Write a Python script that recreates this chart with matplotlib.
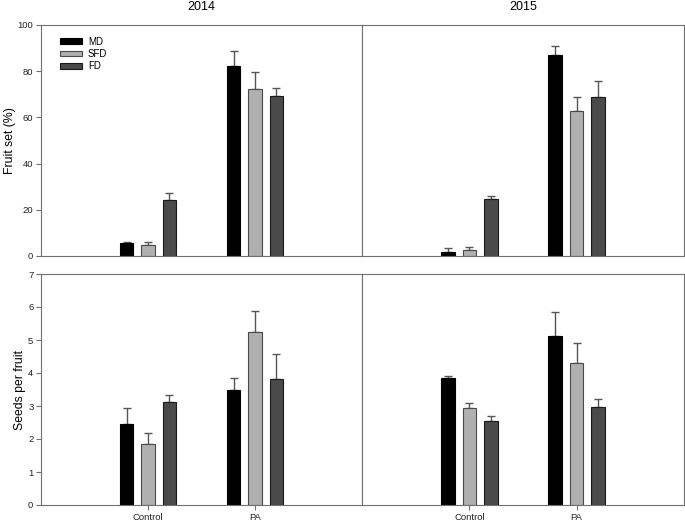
import matplotlib
matplotlib.use("Agg")
import matplotlib.pyplot as plt
import numpy as np

plt.rcParams['font.family'] = ['Liberation Sans', 'DejaVu Sans']

groups = ["Control", "PA"]
series = ["MD", "SFD", "FD"]
years = ["2014", "2015"]

# Fruit set (%)
fruit_2014_MD = [5.5, 82.3]
fruit_2014_SFD = [4.6, 72.3]
fruit_2014_FD = [24.1, 69.1]
fruit_2014_MD_err = [0.6, 6.3]
fruit_2014_SFD_err = [1.6, 7.2]
fruit_2014_FD_err = [3.2, 3.5]

fruit_2015_MD = [1.9, 87.2]
fruit_2015_SFD = [2.8, 62.6]
fruit_2015_FD = [24.6, 69.0]
fruit_2015_MD_err = [1.6, 3.5]
fruit_2015_SFD_err = [1.2, 6.4]
fruit_2015_FD_err = [1.4, 6.6]

# Seeds per fruit
seeds_2014_MD = [2.45, 3.49]
seeds_2014_SFD = [1.84, 5.23]
seeds_2014_FD = [3.13, 3.82]
seeds_2014_MD_err = [0.48, 0.35]
seeds_2014_SFD_err = [0.35, 0.66]
seeds_2014_FD_err = [0.19, 0.76]

seeds_2015_MD = [3.84, 5.11]
seeds_2015_SFD = [2.93, 4.31]
seeds_2015_FD = [2.55, 2.97]
seeds_2015_MD_err = [0.08, 0.75]
seeds_2015_SFD_err = [0.15, 0.59]
seeds_2015_FD_err = [0.15, 0.23]

fills = ["#000000", "#b0b0b0", "#4a4a4a"]
edges = ["#000000", "#4a4a4a", "#1a1a1a"]
spine_col = "#707070"

panels = [
    [(fruit_2014_MD, fruit_2014_SFD, fruit_2014_FD), (fruit_2014_MD_err, fruit_2014_SFD_err, fruit_2014_FD_err)],
    [(fruit_2015_MD, fruit_2015_SFD, fruit_2015_FD), (fruit_2015_MD_err, fruit_2015_SFD_err, fruit_2015_FD_err)],
    [(seeds_2014_MD, seeds_2014_SFD, seeds_2014_FD), (seeds_2014_MD_err, seeds_2014_SFD_err, seeds_2014_FD_err)],
    [(seeds_2015_MD, seeds_2015_SFD, seeds_2015_FD), (seeds_2015_MD_err, seeds_2015_SFD_err, seeds_2015_FD_err)],
]

fig = plt.figure(figsize=(6.85, 5.22), dpi=100)
W, H = 685.0, 522.0
xl, xm, xr = 41 / W, 362 / W, 684 / W
rects = [
    (xl, 1 - 256 / H, xm - xl, (256 - 25) / H),
    (xm, 1 - 256 / H, xr - xm, (256 - 25) / H),
    (xl, 1 - 505 / H, xm - xl, (505 - 274) / H),
    (xm, 1 - 505 / H, xr - xm, (505 - 274) / H),
]

xpos = np.arange(1, len(groups) + 1)
offsets = [-0.2, 0.0, 0.2]
bw = 0.125

axes = []
for i, (vals, errs) in enumerate(panels):
    ax = fig.add_axes(rects[i])
    axes.append(ax)
    for j in range(3):
        ax.bar(xpos + offsets[j], vals[j], width=bw, color=fills[j],
               edgecolor=edges[j], linewidth=0.8, label=series[j], zorder=2)
        ax.errorbar(xpos + offsets[j], vals[j],
                    yerr=[np.zeros(len(vals[j])), errs[j]],
                    fmt='none', ecolor="#555555", elinewidth=1.0,
                    capsize=2.6, capthick=1.0, zorder=1)
    ax.set_xlim(0, 3)
    top = i < 2
    if top:
        ax.set_ylim(0, 100)
        ax.set_yticks(np.arange(0, 101, 20))
    else:
        ax.set_ylim(0, 7)
        ax.set_yticks(np.arange(0, 8, 1))
    for s in ax.spines.values():
        s.set_color(spine_col)
        s.set_linewidth(0.8)
    ax.tick_params(axis='both', direction='out', length=3.5, width=0.8,
                   color=spine_col, labelsize=6.8, pad=2, labelcolor="#222222")
    if top:
        ax.set_xticks([])
    else:
        ax.set_xticks(xpos)
        ax.set_xticklabels(groups)
    if i % 2 == 1:
        ax.tick_params(axis='y', left=False, labelleft=False)
    if i == 0:
        ax.set_ylabel("Fruit set (%)", fontsize=8.8, labelpad=1.5)
        ax.legend(loc='upper left', bbox_to_anchor=(0.058, 0.95), frameon=False,
                  fontsize=7, handlelength=2.3, handleheight=0.55,
                  handletextpad=0.6, labelspacing=0.25, borderpad=0, borderaxespad=0)
    if i == 2:
        ax.set_ylabel("Seeds per fruit", fontsize=8.8, labelpad=1.5)
    if top:
        ax.set_title(years[i], fontsize=9, pad=11)

fig.savefig("out.png", dpi=100)
